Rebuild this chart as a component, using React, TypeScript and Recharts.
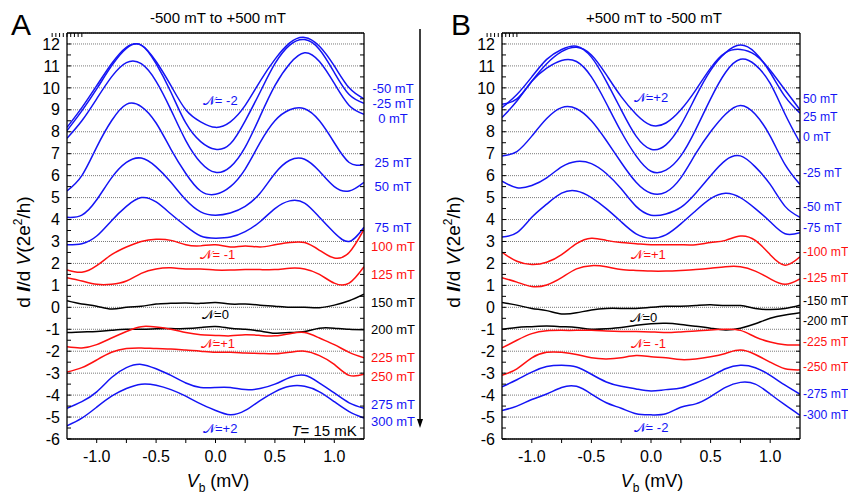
import React from "react";
import { LineChart, Line, XAxis, YAxis, CartesianGrid, ReferenceDot } from "recharts";

const FONT = "'Liberation Sans', Arial, sans-serif";
const BLUE = "#1414f5";
const RED = "#ff1010";
const BLACK = "#000000";

// bias voltage samples (mV)
const vb = [-1.25, -1.125, -1.0, -0.875, -0.75, -0.625, -0.5, -0.375, -0.25, -0.125, 0, 0.125, 0.25, 0.375, 0.5, 0.625, 0.75, 0.875, 1.0, 1.125, 1.25];

const xTicks = [-1, -0.75, -0.5, -0.25, 0, 0.25, 0.5, 0.75, 1];
const yTicks = [-6, -5, -4, -3, -2, -1, 0, 1, 2, 3, 4, 5, 6, 7, 8, 9, 10, 11, 12];
const yMinor = [-6, -5.5, -5, -4.5, -4, -3.5, -3, -2.5, -2, -1.5, -1, -0.5, 0, 0.5, 1, 1.5, 2, 2.5, 3, 3.5, 4, 4.5, 5, 5.5, 6, 6.5, 7, 7.5, 8, 8.5, 9, 9.5, 10, 10.5, 11, 11.5, 12];

// panel A: -500 mT -> +500 mT (curves offset for clarity)
const aM50 = [8.2, 9.1, 10.1, 11.1, 11.85, 11.95, 11.2, 10.1, 9.0, 8.45, 8.2, 8.45, 9.2, 10.3, 11.3, 12.05, 12.3, 11.9, 11.0, 10.0, 9.5];
const aM25 = [8.05, 8.95, 9.95, 11.0, 11.8, 11.95, 11.1, 9.8, 8.4, 7.55, 7.2, 7.45, 8.5, 9.8, 11.1, 11.95, 12.2, 11.75, 10.7, 9.7, 9.3];
const a0 = [7.7, 8.5, 9.5, 10.5, 11.15, 11.1, 10.3, 9.0, 7.6, 6.6, 6.15, 6.4, 7.3, 8.7, 10.1, 11.1, 11.6, 11.2, 10.2, 9.2, 8.8];
const a25 = [5.3, 6.0, 7.3, 8.5, 9.25, 9.15, 8.4, 7.2, 6.1, 5.3, 5.15, 5.5, 6.3, 7.5, 8.5, 9.0, 9.05, 8.5, 7.5, 6.6, 6.5];
const a50 = [4.1, 4.2, 4.9, 5.9, 6.6, 6.8, 6.4, 5.7, 4.9, 4.35, 4.2, 4.3, 4.6, 5.2, 6.1, 6.7, 6.75, 6.2, 5.5, 5.3, 5.7];
const a75 = [2.85, 2.9, 3.25, 3.95, 4.6, 5.0, 4.8, 4.25, 3.7, 3.25, 3.15, 3.2, 3.45, 3.9, 4.5, 4.85, 4.75, 4.1, 3.4, 3.0, 3.65];
const a100 = [1.7, 1.6, 1.9, 2.4, 2.75, 3.0, 3.1, 3.05, 2.85, 2.8, 2.85, 2.75, 2.8, 2.75, 2.85, 2.95, 2.95, 2.6, 2.25, 2.5, 3.55];
const a125 = [1.35, 1.2, 1.05, 1.05, 1.2, 1.55, 1.75, 1.8, 1.75, 1.75, 1.7, 1.7, 1.72, 1.72, 1.72, 1.78, 1.75, 1.5, 1.1, 1.1, 1.85];
const a150 = [0.3, 0.15, 0.05, -0.08, 0.0, 0.05, 0.15, 0.18, 0.2, 0.18, 0.22, 0.15, 0.15, 0.1, 0.05, 0.0, 0.0, -0.02, 0.1, 0.3, 0.6];
const a200 = [-1.15, -1.12, -1.1, -1.05, -1.0, -1.0, -0.98, -0.97, -0.97, -0.92, -0.87, -0.95, -1.0, -1.08, -1.18, -1.15, -1.1, -0.95, -0.95, -1.0, -1.02];
const a225 = [-1.8, -1.85, -1.7, -1.4, -1.1, -0.88, -0.9, -1.0, -1.15, -1.25, -1.28, -1.3, -1.25, -1.28, -1.3, -1.2, -1.15, -1.4, -1.7, -2.05, -2.3];
const a250 = [-2.95, -2.75, -2.4, -2.05, -1.88, -1.85, -1.88, -1.9, -1.95, -2.0, -2.05, -2.05, -2.08, -2.1, -2.12, -2.05, -2.0, -2.2, -2.6, -3.1, -3.05];
const a275 = [-4.6, -4.3, -3.85, -3.2, -2.75, -2.6, -2.8, -3.1, -3.45, -3.65, -3.65, -3.65, -3.75, -3.7, -3.5, -3.2, -3.1, -3.45, -3.9, -4.35, -4.6];
const a300 = [-5.4, -5.05, -4.55, -4.05, -3.7, -3.5, -3.55, -3.75, -4.05, -4.4, -4.7, -4.9, -4.7, -4.25, -3.85, -3.6, -3.6, -3.85, -4.3, -4.75, -5.05];

// panel B: +500 mT -> -500 mT
const b50 = [9.25, 9.5, 10.3, 11.1, 11.65, 11.85, 11.5, 10.6, 9.6, 8.8, 8.3, 8.4, 9.0, 9.9, 10.9, 11.6, 11.75, 11.5, 10.8, 9.9, 9.0];
const b25 = [9.1, 9.7, 10.5, 11.3, 11.75, 11.9, 11.4, 10.3, 9.0, 7.8, 7.2, 7.4, 8.3, 9.6, 10.8, 11.6, 11.95, 11.6, 10.7, 9.6, 8.85];
const b0 = [8.65, 9.4, 10.3, 10.9, 11.25, 11.2, 10.5, 9.3, 8.0, 6.9, 6.2, 6.25, 6.9, 8.1, 9.5, 10.7, 11.3, 11.05, 10.2, 8.8, 7.5];
const bM25 = [6.9, 7.1, 7.8, 8.6, 9.1, 9.05, 8.5, 7.6, 6.6, 5.7, 5.2, 5.25, 5.9, 7.0, 8.0, 8.8, 9.2, 8.8, 7.8, 6.5, 5.6];
const bM50 = [5.75, 5.45, 5.55, 5.9, 6.4, 6.65, 6.55, 6.1, 5.4, 4.6, 4.2, 4.25, 4.55, 5.2, 6.0, 6.7, 6.9, 6.4, 5.6, 4.6, 4.1];
const bM75 = [3.2, 3.4, 4.1, 4.7, 5.2, 5.3, 5.0, 4.5, 3.9, 3.35, 3.15, 3.3, 3.8, 4.4, 4.95, 5.2, 5.0, 4.5, 3.9, 3.35, 3.4];
const bM100 = [2.5, 2.1, 1.95, 2.05, 2.4, 2.9, 3.15, 3.05, 2.95, 2.9, 2.85, 2.85, 2.85, 2.85, 2.95, 3.05, 3.25, 3.05, 2.4, 1.92, 2.3];
const bM125 = [1.35, 1.15, 0.95, 1.02, 1.35, 1.75, 1.9, 1.85, 1.72, 1.68, 1.65, 1.65, 1.68, 1.72, 1.78, 1.85, 1.85, 1.65, 1.3, 1.05, 1.3];
const bM150 = [0.22, 0.1, -0.05, -0.15, -0.3, -0.25, -0.12, -0.05, -0.05, -0.05, 0.0, 0.05, 0.05, 0.08, 0.12, 0.08, 0.08, -0.05, -0.1, -0.05, 0.1];
const bM200 = [-1.0, -0.92, -0.88, -0.85, -0.88, -0.92, -1.0, -0.98, -0.92, -0.82, -0.75, -0.73, -0.78, -0.86, -0.95, -1.03, -0.95, -0.75, -0.5, -0.35, -0.25];
const bM225 = [-1.85, -1.5, -1.2, -1.07, -1.05, -1.05, -1.05, -1.08, -1.1, -1.1, -1.12, -1.15, -1.12, -1.08, -1.03, -1.0, -1.05, -1.35, -1.58, -1.7, -1.72];
const bM250 = [-3.1, -2.8, -2.3, -2.05, -2.05, -2.15, -2.3, -2.35, -2.3, -2.2, -2.25, -2.3, -2.38, -2.35, -2.25, -2.1, -1.95, -2.15, -2.5, -2.8, -2.85];
const bM275 = [-3.62, -3.3, -2.95, -2.7, -2.64, -2.72, -3.05, -3.4, -3.6, -3.72, -3.81, -3.75, -3.68, -3.45, -3.15, -2.8, -2.64, -2.75, -3.1, -3.55, -3.96];
const bM300 = [-4.7, -4.5, -4.2, -3.95, -3.65, -3.6, -3.95, -4.35, -4.6, -4.85, -4.9, -4.85, -4.55, -4.4, -4.07, -3.65, -3.42, -3.5, -3.95, -4.45, -4.92];

// field labels on the right, name + height (in dI/dV units) where each sits
const tagsA = ["-50 mT", "-25 mT", "0 mT", "25 mT", "50 mT", "75 mT", "100 mT", "125 mT", "150 mT", "200 mT", "225 mT", "250 mT", "275 mT", "300 mT"];
const tagYA = [10.0, 9.3, 8.6, 6.6, 5.5, 3.65, 2.78, 1.5, 0.22, -1.0, -2.3, -3.16, -4.44, -5.2];
const tagsB = ["50 mT", "25 mT", "0 mT", "-25 mT", "-50 mT", "-75 mT", "-100 mT", "-125 mT", "-150 mT", "-200 mT", "-225 mT", "-250 mT", "-275 mT", "-300 mT"];
const tagYB = [9.53, 8.67, 7.8, 6.16, 4.6, 3.64, 2.55, 1.36, 0.31, -0.6, -1.56, -2.7, -3.94, -4.9];
const colors = [BLUE, BLUE, BLUE, BLUE, BLUE, BLUE, RED, RED, BLACK, BLACK, RED, RED, BLUE, BLUE];

const seriesA = [aM50, aM25, a0, a25, a50, a75, a100, a125, a150, a200, a225, a250, a275, a300];
const seriesB = [b50, b25, b0, bM25, bM50, bM75, bM100, bM125, bM150, bM200, bM225, bM250, bM275, bM300];

// winding-number notes inside the plots
const notesA = [
  { x: 0.04, y: 9.45, text: "𝒩= -2", color: BLUE },
  { x: 0.02, y: 2.41, text: "𝒩= -1", color: RED },
  { x: 0.0, y: -0.33, text: "𝒩=0", color: BLACK },
  { x: 0.02, y: -1.62, text: "𝒩=+1", color: RED },
  { x: 0.04, y: -5.5, text: "𝒩=+2", color: BLUE },
];
const notesB = [
  { x: 0.0, y: 9.57, text: "𝒩=+2", color: BLUE },
  { x: -0.02, y: 2.41, text: "𝒩=+1", color: RED },
  { x: -0.06, y: -0.44, text: "𝒩=0", color: BLACK },
  { x: -0.02, y: -1.66, text: "𝒩= -1", color: RED },
  { x: 0.0, y: -5.47, text: "𝒩= -2", color: BLUE },
];

const buildRows = (series: number[][]) =>
  vb.map((x, i) => {
    const row: Record<string, number> = { vb: x };
    series.forEach((s, k) => {
      row["s" + k] = s[i];
    });
    return row;
  });

const fmtX = (v: number) => (Math.abs(v * 2 - Math.round(v * 2)) < 1e-9 ? v.toFixed(1) : "");
const noTick = () => null;

const tag = (text: string, color: string, dx: number, size = 13, anchor = "middle") => (props: any) => {
  const box = props.viewBox || {};
  const cx = (box.x ?? 0) + (box.width ?? 0) / 2 + dx;
  const cy = (box.y ?? 0) + (box.height ?? 0) / 2;
  return (
    <text x={cx} y={cy} dy="0.36em" textAnchor={anchor} fill={color} fontSize={size} fontFamily={FONT}>
      {text}
    </text>
  );
};

const tempNote = (props: any) => {
  const box = props.viewBox || {};
  const cx = (box.x ?? 0) + (box.width ?? 0) / 2;
  const cy = (box.y ?? 0) + (box.height ?? 0) / 2;
  return (
    <text x={cx} y={cy} dy="0.36em" textAnchor="end" fill={BLACK} fontSize={15} fontFamily={FONT}>
      <tspan fontStyle="italic">T</tspan>= 15 mK
    </text>
  );
};

interface PanelProps {
  series: number[][];
  tags: string[];
  tagY: number[];
  notes: { x: number; y: number; text: string; color: string }[];
  width: number;
  margin: { top: number; right: number; bottom: number; left: number };
  tagDx: number;
  tagSize: number;
  tagAnchor: string;
  showTemp?: boolean;
}

const Panel = ({ series, tags, tagY, notes, width, margin, tagDx, tagSize, tagAnchor, showTemp }: PanelProps) => {
  const rows = buildRows(series);
  const axisLine = { stroke: "#000", strokeWidth: 1.3 };
  return (
    <LineChart width={width} height={498} data={rows} margin={margin}>
      <CartesianGrid vertical={false} stroke="#7a7a7a" strokeDasharray="1 1" />
      <XAxis
        dataKey="vb"
        type="number"
        domain={[-1.25, 1.25]}
        ticks={xTicks}
        interval={0}
        tickFormatter={fmtX}
        tickSize={4}
        tickMargin={8}
        height={30}
        axisLine={axisLine}
        tickLine={{ stroke: "#000" }}
        tick={{ fontSize: 16, fill: "#000" }}
        allowDataOverflow
      />
      <XAxis
        xAxisId="top"
        orientation="top"
        type="number"
        domain={[-1.25, 1.25]}
        ticks={xTicks}
        interval={0}
        mirror
        tick={noTick}
        tickSize={4}
        axisLine={axisLine}
        tickLine={{ stroke: "#000" }}
        allowDataOverflow
      />
      <YAxis
        type="number"
        domain={[-6, 12.5]}
        ticks={yTicks}
        interval={0}
        width={45}
        tickLine={false}
        tickSize={5}
        tickMargin={2}
        axisLine={axisLine}
        tick={{ fontSize: 16, fill: "#000" }}
        allowDataOverflow
      />
      <YAxis
        yAxisId="lm"
        type="number"
        domain={[-6, 12.5]}
        ticks={yMinor}
        interval={0}
        mirror
        tick={noTick}
        tickSize={4}
        axisLine={false}
        tickLine={{ stroke: "#000" }}
        allowDataOverflow
      />
      <YAxis
        yAxisId="r"
        orientation="right"
        type="number"
        domain={[-6, 12.5]}
        ticks={yMinor}
        interval={0}
        mirror
        tick={noTick}
        tickSize={4}
        axisLine={axisLine}
        tickLine={{ stroke: "#000" }}
        allowDataOverflow
      />
      {series.map((_, k) => (
        <Line
          key={"s" + k}
          dataKey={"s" + k}
          type="natural"
          stroke={colors[k]}
          strokeWidth={1.5}
          dot={false}
          isAnimationActive={false}
        />
      ))}
      {tags.map((t, k) => (
        <ReferenceDot
          key={"t" + k}
          x={1.25}
          y={tagY[k]}
          r={0}
          ifOverflow="visible"
          label={tag(t, colors[k], tagDx, tagSize, tagAnchor)}
        />
      ))}
      {notes.map((n, k) => (
        <ReferenceDot key={"n" + k} x={n.x} y={n.y} r={0} ifOverflow="visible" label={tag(n.text, n.color, 0, 13)} />
      ))}
      {showTemp && <ReferenceDot x={1.19} y={-5.63} r={0} ifOverflow="visible" label={tempNote} />}
    </LineChart>
  );
};

const YLabel = ({ x, y }: { x: number; y: number }) => (
  <text transform={`translate(${x},${y}) rotate(-90)`} textAnchor="middle" fontSize={19} fill="#000">
    d <tspan fontStyle="italic" fontWeight="bold">I</tspan>/d <tspan fontStyle="italic">V</tspan>(2e
    <tspan dy={-8} fontSize={12}>2</tspan>
    <tspan dy={8}>/h)</tspan>
  </text>
);

const XLabel = ({ x, y }: { x: number; y: number }) => (
  <text x={x} y={y} textAnchor="middle" fontSize={18} fill="#000">
    <tspan fontStyle="italic">V</tspan>
    <tspan dy={5} fontSize={12}>b</tspan>
    <tspan dy={-5}> (mV)</tspan>
  </text>
);

const App = () => (
  <div style={{ position: "absolute", left: 0, top: 0, width: 848, height: 498, background: "#fff", fontFamily: FONT, overflow: "hidden" }}>
    <div style={{ position: "absolute", left: 0, top: 0 }}>
      <Panel
        series={seriesA}
        tags={tagsA}
        tagY={tagYA}
        notes={notesA}
        width={430}
        margin={{ top: 33, right: 66, bottom: 29, left: 22 }}
        tagDx={29}
        tagSize={13}
        tagAnchor="middle"
        showTemp
      />
    </div>
    <div style={{ position: "absolute", left: 430, top: 0 }}>
      <Panel
        series={seriesB}
        tags={tagsB}
        tagY={tagYB}
        notes={notesB}
        width={418}
        margin={{ top: 33, right: 48, bottom: 29, left: 27 }}
        tagDx={3}
        tagSize={12.2}
        tagAnchor="start"
      />
    </div>
    <svg width={848} height={498} style={{ position: "absolute", left: 0, top: 0, pointerEvents: "none", fontFamily: FONT }}>
      <text x={11} y={35} fontSize={30} fill="#000">A</text>
      <text x={451} y={35} fontSize={30} fill="#000">B</text>
      <text x={218} y={23} fontSize={15} textAnchor="middle" fill="#000">-500 mT to +500 mT</text>
      <text x={654} y={23} fontSize={15} textAnchor="middle" fill="#000">+500 mT to -500 mT</text>
      <YLabel x={30} y={252} />
      <YLabel x={460} y={252} />
      <XLabel x={218} y={487} />
      <XLabel x={652} y={487} />
      <line x1={420} y1={29} x2={420} y2={421} stroke="#000" strokeWidth={1.5} />
      <polygon points="417,419 423,419 420,428" fill="#000" />
    </svg>
  </div>
);

export default App;
